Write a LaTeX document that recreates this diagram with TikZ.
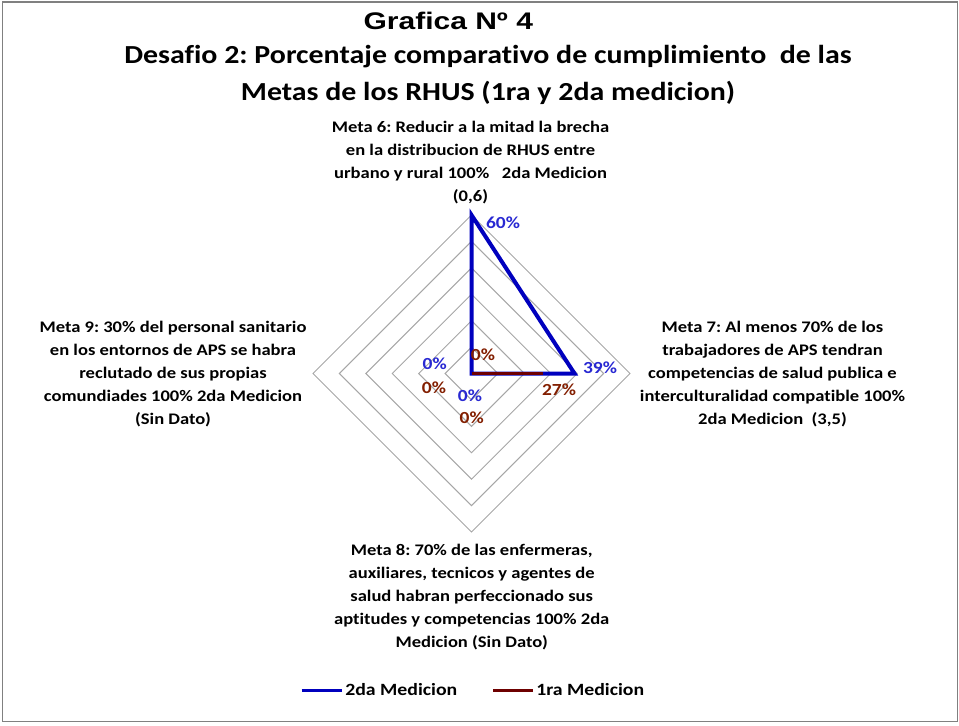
\documentclass[tikz,border=0pt]{standalone}
\usepackage{fontspec}
\usepackage{tikz}
\newfontfamily\calibrib[FakeStretch=1.15, Ligatures={NoCommon}]{Carlito}
\newfontfamily\arialb[FakeStretch=1.25]{Liberation Sans}
\definecolor{marco}{RGB}{128,128,128}
\definecolor{anillo}{RGB}{166,166,166}
\definecolor{serieazul}{RGB}{0,0,190}
\definecolor{seriegranate}{RGB}{110,0,0}
\definecolor{datoazul}{RGB}{40,40,210}
\definecolor{datogranate}{RGB}{130,30,0}
\frenchspacing

\begin{document}
\begin{tikzpicture}[x=0.75pt,y=0.75pt,yscale=-1,xscale=1,
  ring/.style={color=anillo, line width=0.75},
  meta/.style={align=center, inner sep=0.75pt, font=\calibrib\bfseries\fontsize{12.1}{17.25}\selectfont},
  datoA/.style={inner sep=0.75pt, text=datoazul, font=\calibrib\bfseries\fontsize{12.7}{14}\selectfont},
  datoG/.style={inner sep=0.75pt, text=datogranate, font=\calibrib\bfseries\fontsize{12.7}{14}\selectfont},
  leyenda/.style={anchor=west, inner sep=0.75pt, font=\calibrib\bfseries\fontsize{12.9}{15}\selectfont}]
\useasboundingbox (0,0) rectangle (959,725);

%Shape: Rectangle [frame]
\draw [color=marco, line width=1.3] (2.5,2) rectangle (957.5,721.5) ;

%Shape: Diamond [10%]
\draw [ring] (471.5,347.1) -- (497.9,373.5) -- (471.5,399.9) -- (445.1,373.5) -- cycle ;
%Shape: Diamond [20%]
\draw [ring] (471.5,320.7) -- (524.3,373.5) -- (471.5,426.3) -- (418.7,373.5) -- cycle ;
%Shape: Diamond [30%]
\draw [ring] (471.5,294.25) -- (550.75,373.5) -- (471.5,452.75) -- (392.25,373.5) -- cycle ;
%Shape: Diamond [40%]
\draw [ring] (471.5,267.8) -- (577.2,373.5) -- (471.5,479.2) -- (365.8,373.5) -- cycle ;
%Shape: Diamond [50%]
\draw [ring] (471.5,241.4) -- (603.6,373.5) -- (471.5,505.6) -- (339.4,373.5) -- cycle ;
%Shape: Diamond [60%]
\draw [ring] (471.5,215) -- (630,373.5) -- (471.5,532) -- (313,373.5) -- cycle ;

\coordinate (ctr) at (471.5,373.5) ;
\coordinate (azul6) at (471.5,215) ;
\coordinate (azul7) at (574.5,373.5) ;
\coordinate (granate7) at (542.8,373.5) ;

%Straight Lines [2da Medicion]
\draw [color=serieazul, line width=3] (ctr) -- (azul6) -- (azul7) -- cycle ;
%Straight Lines [1ra Medicion]
\draw [color=seriegranate, line width=2.25] (ctr) -- (granate7) ;

% Text Node
\draw (448.3,29.3) node (titulo) [anchor=base, inner sep=0pt, font=\arialb\bfseries\fontsize{18}{20}\selectfont] {Grafica Nº 4};
% Text Node
\draw (488,75.2) node (subtitulo) [align=center, inner sep=0pt, font=\calibrib\bfseries\fontsize{19.5}{27.5}\selectfont] {Desafio 2: Porcentaje comparativo de cumplimiento\ \ de las\\Metas de los RHUS (1ra y 2da medicion)};

% Text Node
\draw (470.5,162.5) node (meta6) [meta] {Meta 6: Reducir a la mitad la brecha\\en la distribucion de RHUS entre\\urbano y rural 100\%\ \ \ 2da Medicion\\(0,6)};
% Text Node
\draw (772.5,374.5) node (meta7) [meta] {Meta 7: Al menos 70\% de los\\trabajadores de APS tendran\\competencias de salud publica e\\interculturalidad compatible 100\%\\2da Medicion\ \ (3,5)};
% Text Node
\draw (471.7,597.2) node (meta8) [meta] {Meta 8: 70\% de las enfermeras,\\auxiliares, tecnicos y agentes de\\salud habran perfeccionado sus\\aptitudes y competencias 100\% 2da\\Medicion (Sin Dato)};
% Text Node
\draw (173,374) node (meta9) [meta] {Meta 9: 30\% del personal sanitario\\en los entornos de APS se habra\\reclutado de sus propias\\comundiades 100\% 2da Medicion\\(Sin Dato)};

% Text Node
\draw (503,223) node (d6a) [datoA] {60\%};
% Text Node
\draw (483,355) node (d6g) [datoG] {0\%};
% Text Node
\draw (600,368) node (d7a) [datoA] {39\%};
% Text Node
\draw (559,390) node (d7g) [datoG] {27\%};
% Text Node
\draw (470,396) node (d8a) [datoA] {0\%};
% Text Node
\draw (471.7,417.3) node (d8g) [datoG] {0\%};
% Text Node
\draw (434.7,363.3) node (d9a) [datoA] {0\%};
% Text Node
\draw (434,388) node (d9g) [datoG] {0\%};

%Straight Lines [legend]
\draw [color=serieazul, line width=2.25] (301.7,690) -- (341.7,690) ;
% Text Node
\draw (344,690) node (ley2) [leyenda] {2da Medicion};
%Straight Lines [legend]
\draw [color=seriegranate, line width=2.25] (493.3,690) -- (533.3,690) ;
% Text Node
\draw (535,690) node (ley1) [leyenda] {1ra Medicion};

\end{tikzpicture}
\end{document}
